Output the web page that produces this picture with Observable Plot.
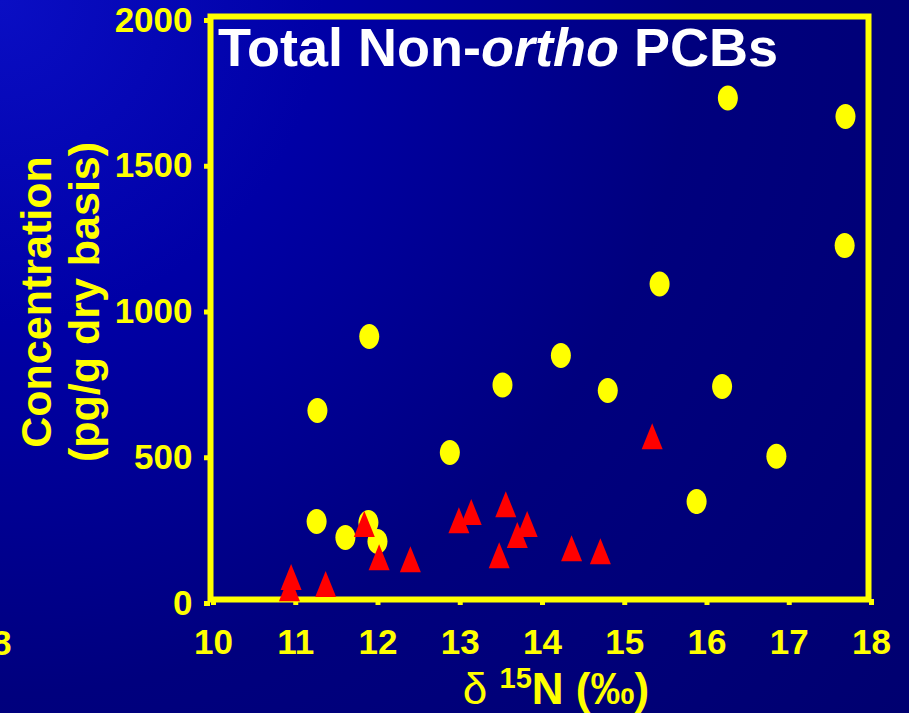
<!DOCTYPE html>
<html>
<head>
<meta charset="utf-8">
<script src="https://cdn.jsdelivr.net/npm/d3@7"></script>
<script src="https://cdn.jsdelivr.net/npm/@observablehq/plot@0.6"></script>
<style>
  html, body { margin: 0; padding: 0; }
  body {
    width: 909px; height: 713px; overflow: hidden;
    background: radial-gradient(circle at 0 0, #0a0ec4 0%, #0000a6 28%, #00007e 60%, #000070 100%);
    font-family: "Liberation Sans", Arial, sans-serif;
  }
  #wrap { position: relative; width: 909px; height: 713px; }
  #wrap svg { position: absolute; left: 0; top: 0; background: transparent; }
  .title { position: absolute; left: 218px; top: 20px; font-size: 54px; line-height: 1; font-weight: bold; color: #ffffff; white-space: nowrap; }
  .xlabel { position: absolute; left: 556px; top: 667px; transform: translateX(-50%); font-size: 44px; line-height: 1; font-weight: bold; color: #ffff00; white-space: nowrap; }
  .xlabel .d { font-weight: normal; }
  .xlabel .s { font-size: 29px; position: relative; top: -16px; }
  .stray { position: absolute; left: -8px; top: 625px; font-size: 35px; line-height: 1; font-weight: bold; color: #ffff00; }
</style>
</head>
<body>
<div id="wrap"></div>
<script>
// δ15N (‰) and concentration (pg/g dry basis)
const circleX = [16.29, 17.72, 17.71, 15.46, 11.93, 14.26, 13.55, 14.83, 16.22, 11.30, 12.91, 16.88, 15.91, 11.29, 11.64, 11.92, 12.03];
const circleY = [1720, 1657, 1214, 1082, 902, 837, 736, 717, 731, 648, 504, 491, 336, 268, 213, 264, 199];
const triX = [10.98, 10.96, 11.40, 11.87, 12.05, 12.43, 13.02, 13.17, 13.59, 13.85, 13.73, 13.51, 14.39, 14.74, 15.37];
const triY = [62, 24, 38, 244, 130, 123, 257, 285, 312, 244, 206, 137, 161, 151, 545];
const xTicks = [10, 11, 12, 13, 14, 15, 16, 17, 18];
const yTicks = [0, 500, 1000, 1500, 2000];
const titleText = ["Total Non-", "ortho", " PCBs"];
const yLabel = "Concentration\n(pg/g dry basis)";

const circles = circleX.map((x, i) => ({x, y: circleY[i]}));
const triangles = triX.map((x, i) => ({x, y: triY[i]}));

const YELLOW = "#ffff00", RED = "#ff0000";

// tall ellipse symbol
const ellipse = {
  draw(ctx) {
    const rx = 10, ry = 12.5, k = 0.5523;
    ctx.moveTo(rx, 0);
    ctx.bezierCurveTo(rx, k * ry, k * rx, ry, 0, ry);
    ctx.bezierCurveTo(-k * rx, ry, -rx, k * ry, -rx, 0);
    ctx.bezierCurveTo(-rx, -k * ry, -k * rx, -ry, 0, -ry);
    ctx.bezierCurveTo(k * rx, -ry, rx, -k * ry, rx, 0);
    ctx.closePath();
  }
};
// narrow triangle symbol, centroid at origin
const tri = {
  draw(ctx) {
    const w = 21, h = 26;
    ctx.moveTo(0, -2 * h / 3);
    ctx.lineTo(w / 2, h / 3);
    ctx.lineTo(-w / 2, h / 3);
    ctx.closePath();
  }
};

const chart = Plot.plot({
  width: 909,
  height: 713,
  marginLeft: 210,
  marginRight: 41,
  marginTop: 16,
  marginBottom: 114,
  style: {background: "transparent", color: YELLOW, fontFamily: "'Liberation Sans', Arial, sans-serif", overflow: "visible"},
  x: {domain: [10, 18]},
  y: {domain: [0, 2000]},
  marks: [
    Plot.frame({stroke: YELLOW, strokeWidth: 6}),
    Plot.axisX({ticks: xTicks, tickFormat: d => String(d), tickSize: 6, tickPadding: 24, stroke: YELLOW, strokeWidth: 5, fill: YELLOW, fontSize: 35, fontWeight: "bold", dx: 3, label: null}),
    Plot.axisY({ticks: yTicks, tickFormat: d => String(d), tickSize: 6, tickPadding: 12, stroke: YELLOW, strokeWidth: 5, fill: YELLOW, fontSize: 35, fontWeight: "bold", dy: 4, label: null}),
    Plot.text([yLabel], {frameAnchor: "left", textAnchor: "middle", rotate: -90, dx: -151, dy: -6, fontSize: 43, fontWeight: "bold", fill: YELLOW, lineHeight: 1.12}),
    Plot.dot(circles, {x: "x", y: "y", symbol: ellipse, fill: YELLOW, stroke: null, r: 10}),
    Plot.dot(triangles, {x: "x", y: "y", symbol: tri, fill: RED, stroke: null, r: 10})
  ]
});

const wrap = document.getElementById("wrap");
wrap.appendChild(chart);

const title = document.createElement("div");
title.className = "title";
title.innerHTML = `${titleText[0]}<i>${titleText[1]}</i>${titleText[2]}`;
wrap.appendChild(title);

const xl = document.createElement("div");
xl.className = "xlabel";
xl.innerHTML = `<span class="d">δ</span> <span class="s">15</span>N (‰)`;
wrap.appendChild(xl);

const stray = document.createElement("div");
stray.className = "stray";
stray.textContent = "8";
wrap.appendChild(stray);
</script>
</body>
</html>
